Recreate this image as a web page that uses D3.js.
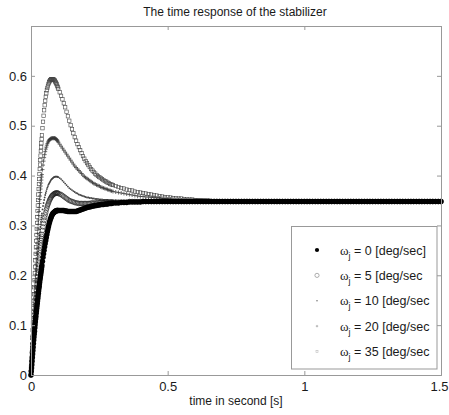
<!DOCTYPE html>
<html><head><meta charset="utf-8">
<script src="https://cdn.jsdelivr.net/npm/d3@7/dist/d3.min.js"></script>
<style>body{margin:0;background:#fff}svg{display:block}</style>
</head><body>
<svg id="c" width="449" height="415"></svg>
<script>
// sample times [s]
const times = [
0,0.001,0.002,0.003,0.004,0.005,0.006,0.007,0.008,0.009,
0.010,0.011,0.012,0.013,0.014,0.015,0.016,0.017,0.018,0.019,
0.020,0.021,0.022,0.023,0.024,0.025,0.026,0.027,0.028,0.029,
0.030,0.031,0.032,0.033,0.034,0.035,0.036,0.037,0.038,0.039,
0.040,
0.042,0.044,0.046,0.048,0.050,0.052,0.054,0.056,0.058,0.060,
0.062,0.064,0.066,0.068,0.070,0.072,0.074,0.076,0.078,0.080,
0.082,0.084,0.086,0.088,0.090,0.092,0.094,0.096,0.098,0.100,
0.105,0.110,0.115,0.120,0.125,0.130,0.135,0.140,0.145,0.150,
0.155,0.160,0.165,0.170,0.175,0.180,0.185,0.190,0.195,0.200,
0.205,0.210,0.215,0.220,0.225,0.230,0.235,0.240,0.245,0.250,
0.255,0.260,0.265,0.270,0.275,0.280,0.285,0.290,0.295,0.300,
0.31,0.32,0.33,0.34,0.35,0.36,0.37,0.38,0.39,0.40,
0.41,0.42,0.43,0.44,0.45,0.46,0.47,0.48,0.49,0.50,
0.51,0.52,0.53,0.54,0.55,0.56,0.57,0.58,0.59,0.60,
0.61,0.62,0.63,0.64,0.65,0.66,0.67,0.68,0.69,0.70,
0.71,0.72,0.73,0.74,0.75,0.76,0.77,0.78,0.79,0.80,
0.81,0.82,0.83,0.84,0.85,0.86,0.87,0.88,0.89,0.90,
0.91,0.92,0.93,0.94,0.95,0.96,0.97,0.98,0.99,1.00,
1.01,1.02,1.03,1.04,1.05,1.06,1.07,1.08,1.09,1.10,
1.11,1.12,1.13,1.14,1.15,1.16,1.17,1.18,1.19,1.20,
1.21,1.22,1.23,1.24,1.25,1.26,1.27,1.28,1.29,1.30,
1.31,1.32,1.33,1.34,1.35,1.36,1.37,1.38,1.39,1.40,
1.41,1.42,1.43,1.44,1.45,1.46,1.47,1.48,1.49,1.50
];

// omega_j = 0 deg/sec
const w0 = [
0,.007,.014,.021,.028,.035,.042,.049,.056,.063,
.070,.076,.082,.088,.095,.101,.107,.113,.118,.124,
.129,.134,.139,.144,.149,.154,.159,.164,.169,.174,
.178,.183,.187,.192,.196,.200,.204,.208,.212,.216,
.220,
.228,.236,.243,.250,.257,.264,.270,.276,.282,.288,
.293,.298,.303,.307,.311,.314,.317,.320,.322,.324,
.325,.326,.327,.328,.329,.329,.330,.330,.330,.330,
.330,.330,.330,.330,.329,.329,.328,.328,.328,.328,
.328,.328,.328,.329,.330,.331,.332,.333,.334,.335,
.336,.337,.337,.338,.339,.339,.340,.340,.341,.341,
.342,.342,.342,.343,.343,.343,.344,.344,.344,.345,
.345,.345,.346,.346,.346,.347,.347,.347,.347,.347,
.348,.348,.348,.348,.348,.348,.348,.348,.348,.348,
.348,.348,.348,.348,.348,.348,.348,.348,.348,.348,
.348,.348,.348,.348,.348,.348,.348,.348,.348,.348,
.348,.348,.348,.348,.348,.348,.348,.348,.348,.348,
.348,.348,.348,.348,.348,.348,.348,.348,.348,.348,
.348,.348,.348,.348,.348,.348,.348,.348,.348,.348,
.348,.348,.348,.348,.348,.348,.348,.348,.348,.348,
.348,.348,.348,.348,.348,.348,.348,.348,.348,.348,
.348,.348,.348,.348,.348,.348,.348,.348,.348,.348,
.348,.348,.348,.348,.348,.348,.348,.348,.348,.348,
.348,.348,.348,.348,.348,.348,.348,.348,.348,.348
];

// omega_j = 5 deg/sec
const w5 = [
0,.009,.018,.027,.036,.045,.054,.063,.072,.081,
.090,.099,.107,.115,.123,.131,.139,.147,.155,.162,
.169,.176,.183,.190,.197,.204,.210,.216,.222,.228,
.234,.240,.245,.250,.255,.260,.265,.270,.274,.278,
.282,
.290,.297,.304,.310,.316,.321,.326,.331,.335,.339,
.342,.345,.348,.351,.353,.355,.357,.359,.360,.361,
.362,.363,.364,.364,.365,.365,.365,.365,.365,.364,
.363,.362,.360,.358,.356,.354,.352,.350,.349,.348,
.347,.346,.345,.345,.344,.344,.344,.344,.344,.344,
.344,.344,.344,.345,.345,.345,.345,.345,.346,.346,
.346,.346,.346,.347,.347,.347,.347,.347,.347,.347,
.347,.347,.347,.347,.347,.348,.348,.348,.348,.348,
.348,.348,.348,.348,.348,.348,.348,.348,.348,.348,
.348,.348,.348,.348,.348,.348,.348,.348,.348,.348,
.348,.348,.348,.348,.348,.348,.348,.348,.348,.348,
.348,.348,.348,.348,.348,.348,.348,.348,.348,.348,
.348,.348,.348,.348,.348,.348,.348,.348,.348,.348,
.348,.348,.348,.348,.348,.348,.348,.348,.348,.348,
.348,.348,.348,.348,.348,.348,.348,.348,.348,.348,
.348,.348,.348,.348,.348,.348,.348,.348,.348,.348,
.348,.348,.348,.348,.348,.348,.348,.348,.348,.348,
.348,.348,.348,.348,.348,.348,.348,.348,.348,.348,
.348,.348,.348,.348,.348,.348,.348,.348,.348,.348
];

// omega_j = 10 deg/sec
const w10 = [
0,.011,.022,.033,.044,.055,.066,.077,.088,.099,
.109,.119,.129,.139,.149,.158,.167,.176,.185,.194,
.202,.210,.218,.226,.234,.241,.248,.255,.262,.268,
.274,.280,.286,.292,.297,.302,.307,.312,.316,.320,
.324,
.332,.339,.345,.351,.356,.361,.365,.369,.373,.376,
.379,.382,.384,.386,.388,.390,.392,.393,.394,.395,
.396,.397,.397,.398,.398,.398,.398,.398,.397,.397,
.395,.393,.390,.387,.384,.381,.378,.375,.373,.371,
.369,.367,.365,.364,.362,.361,.360,.359,.358,.357,
.356,.356,.355,.355,.354,.354,.353,.353,.353,.352,
.352,.352,.351,.351,.351,.351,.350,.350,.350,.350,
.350,.349,.349,.349,.349,.349,.349,.349,.349,.349,
.348,.348,.348,.348,.348,.348,.348,.348,.348,.348,
.348,.348,.348,.348,.348,.348,.348,.348,.348,.348,
.348,.348,.348,.348,.348,.348,.348,.348,.348,.348,
.348,.348,.348,.348,.348,.348,.348,.348,.348,.348,
.348,.348,.348,.348,.348,.348,.348,.348,.348,.348,
.348,.348,.348,.348,.348,.348,.348,.348,.348,.348,
.348,.348,.348,.348,.348,.348,.348,.348,.348,.348,
.348,.348,.348,.348,.348,.348,.348,.348,.348,.348,
.348,.348,.348,.348,.348,.348,.348,.348,.348,.348,
.348,.348,.348,.348,.348,.348,.348,.348,.348,.348,
.348,.348,.348,.348,.348,.348,.348,.348,.348,.348
];

// omega_j = 20 deg/sec
const w20 = [
0,.013,.026,.039,.052,.065,.078,.091,.104,.117,
.129,.141,.153,.165,.177,.189,.200,.211,.222,.233,
.244,.254,.264,.274,.284,.293,.302,.311,.320,.328,
.336,.344,.352,.359,.366,.373,.379,.385,.391,.397,
.402,
.412,.421,.429,.436,.442,.448,.453,.457,.461,.464,
.467,.469,.471,.472,.473,.474,.474,.475,.475,.475,
.475,.475,.475,.475,.474,.473,.472,.471,.469,.467,
.463,.459,.455,.451,.447,.443,.439,.435,.431,.427,
.423,.419,.416,.413,.410,.407,.404,.401,.398,.396,
.394,.392,.390,.388,.386,.384,.383,.381,.380,.379,
.377,.376,.375,.374,.373,.372,.371,.370,.369,.368,
.367,.366,.365,.364,.363,.362,.361,.360,.359,.358,
.358,.357,.357,.356,.356,.355,.355,.354,.354,.353,
.353,.352,.352,.352,.351,.351,.351,.350,.350,.350,
.350,.349,.349,.349,.349,.349,.349,.348,.348,.348,
.348,.348,.348,.348,.348,.348,.348,.348,.348,.348,
.348,.348,.348,.348,.348,.348,.348,.348,.348,.348,
.348,.348,.348,.348,.348,.348,.348,.348,.348,.348,
.348,.348,.348,.348,.348,.348,.348,.348,.348,.348,
.348,.348,.348,.348,.348,.348,.348,.348,.348,.348,
.348,.348,.348,.348,.348,.348,.348,.348,.348,.348,
.348,.348,.348,.348,.348,.348,.348,.348,.348,.348,
.348,.348,.348,.348,.348,.348,.348,.348,.348,.348
];

// omega_j = 35 deg/sec
const w35 = [
0,.015,.030,.045,.060,.075,.090,.105,.120,.134,
.148,.162,.176,.190,.204,.217,.230,.243,.256,.269,
.281,.293,.305,.317,.329,.340,.351,.362,.373,.383,
.393,.403,.413,.422,.431,.440,.449,.457,.465,.473,
.481,
.495,.508,.520,.531,.541,.550,.558,.565,.571,.576,
.580,.584,.587,.589,.591,.592,.593,.593,.593,.593,
.593,.592,.591,.589,.587,.585,.583,.580,.577,.574,
.567,.560,.553,.545,.537,.528,.519,.510,.501,.493,
.485,.477,.470,.463,.457,.451,.445,.439,.434,.429,
.425,.421,.417,.413,.410,.407,.404,.401,.399,.397,
.395,.393,.391,.389,.388,.386,.385,.383,.382,.381,
.379,.377,.375,.374,.372,.371,.370,.368,.367,.366,
.365,.364,.363,.362,.361,.360,.359,.358,.357,.357,
.356,.355,.355,.354,.354,.353,.353,.352,.352,.351,
.351,.351,.350,.350,.350,.349,.349,.349,.349,.349,
.348,.348,.348,.348,.348,.348,.348,.348,.348,.348,
.348,.348,.348,.348,.348,.348,.348,.348,.348,.348,
.348,.348,.348,.348,.348,.348,.348,.348,.348,.348,
.348,.348,.348,.348,.348,.348,.348,.348,.348,.348,
.348,.348,.348,.348,.348,.348,.348,.348,.348,.348,
.348,.348,.348,.348,.348,.348,.348,.348,.348,.348,
.348,.348,.348,.348,.348,.348,.348,.348,.348,.348,
.348,.348,.348,.348,.348,.348,.348,.348,.348,.348
];

const jamRates = ["0","5","10","20","35"];
const legendTails = [" = 0 [deg/sec]"," = 5 [deg/sec"," = 10 [deg/sec"," = 20 [deg/sec"," = 35 [deg/sec"];
const yTicks = [0,0.1,0.2,0.3,0.4,0.5,0.6];
const xTicks = [0,0.5,1,1.5];
const titleText = "The time response of the stabilizer";
const xLabelText = "time in second [s]";

const seriesValues = [w0,w5,w10,w20,w35];
const markerKinds = ["dot","circle","point","plus","square"];

const svg = d3.select("#c");
const FONT = "Liberation Sans, Arial, Helvetica, sans-serif";
const x = d3.scaleLinear().domain([0,1.5]).range([31,441]);
const y = d3.scaleLinear().domain([0,0.7]).range([375,26]);

svg.append("rect").attr("x",31).attr("y",26).attr("width",410).attr("height",349)
  .attr("fill","#fff");

const plot = svg.append("g");
function drawMarkers(g, kind, pts, legend){
  const sel = g.selectAll(null).data(pts);
  if(kind==="dot"){
    sel.enter().append("circle").attr("cx",d=>d[0]).attr("cy",d=>d[1]).attr("r",legend?2.1:2.7).attr("fill","#000");
  } else if(kind==="circle"){
    sel.enter().append("circle").attr("cx",d=>d[0]).attr("cy",d=>d[1]).attr("r",legend?2.1:2.3)
      .attr("fill","none").attr("stroke",legend?"#999":"#222").attr("stroke-width",legend?0.8:0.6);
  } else if(kind==="point"){
    sel.enter().append("circle").attr("cx",d=>d[0]).attr("cy",d=>d[1]).attr("r",legend?0.8:0.9).attr("fill",legend?"#777":"#444");
  } else if(kind==="plus"){
    const s = legend?1.2:2;
    sel.enter().append("path").attr("transform",d=>`translate(${d[0]},${d[1]})`)
      .attr("d",`M${-s},0H${s}M0,${-s}V${s}`).attr("fill","none")
      .attr("stroke",legend?"#999":"#333").attr("stroke-width",0.7);
  } else {
    const s = legend?2:3.4;
    sel.enter().append("rect").attr("x",d=>d[0]-s/2).attr("y",d=>d[1]-s/2).attr("width",s).attr("height",s)
      .attr("fill","none").attr("stroke",legend?"#bbb":"#444").attr("stroke-width",0.6);
  }
}
[4,3,2,1,0].forEach(k=>{
  const vals = seriesValues[k];
  const pts = times.map((t,i)=>[x(t), y(vals[i])]).filter((p,i)=>i<vals.length);
  drawMarkers(plot.append("g"), markerKinds[k], pts, false);
});

const axisColor = "#999";
const gl = svg.append("g").attr("transform","translate(31,0)")
  .call(d3.axisLeft(y).tickValues(yTicks).tickSize(-4).tickPadding(4).tickFormat(d=>String(d)));
const gb = svg.append("g").attr("transform","translate(0,375)")
  .call(d3.axisBottom(x).tickValues(xTicks).tickSize(-4).tickPadding(7).tickFormat(d=>String(d)));
const gt = svg.append("g").attr("transform","translate(0,26)")
  .call(d3.axisTop(x).tickValues(xTicks).tickSize(-4).tickFormat(""));
const gr = svg.append("g").attr("transform","translate(441,0)")
  .call(d3.axisRight(y).tickValues(yTicks).tickSize(-4).tickFormat(""));
[gl,gb,gt,gr].forEach(g=>{
  g.select(".domain").attr("stroke",axisColor).attr("stroke-width",1);
  g.selectAll(".tick line").attr("stroke",axisColor);
  g.selectAll("text").attr("fill","#1a1a1a").attr("font-family",FONT).attr("font-size",13);
});
// keep last x tick label inside the window, as in the reference
gb.selectAll(".tick text").filter(d=>d===1.5).attr("text-anchor","end").attr("x",7);

const lg = svg.append("g");
lg.append("rect").attr("x",291.5).attr("y",226.5).attr("width",145.5).attr("height",142.5)
  .attr("fill","#fff").attr("stroke","#999").attr("stroke-width",1);
const rowY = d3.scalePoint().domain(jamRates).range([250,351.5]);
jamRates.forEach((r,k)=>{
  const yy = rowY(r);
  drawMarkers(lg.append("g"), markerKinds[k], [[317,yy]], true);
  const t = lg.append("text").attr("x",340).attr("y",yy+4.5)
    .attr("font-family",FONT).attr("font-size",12.5).attr("fill","#1a1a1a");
  t.append("tspan").attr("font-family","Liberation Serif, DejaVu Serif, serif").attr("font-size",13).text("ω");
  t.append("tspan").attr("font-size",9).attr("dy",4).text("j");
  t.append("tspan").attr("dy",-4).text(legendTails[k]);
});

svg.append("text").attr("x",235).attr("y",16).attr("text-anchor","middle")
  .attr("font-family",FONT).attr("font-size",12).attr("fill","#1a1a1a").text(titleText);
svg.append("text").attr("x",236).attr("y",405).attr("text-anchor","middle")
  .attr("font-family",FONT).attr("font-size",12).attr("fill","#1a1a1a").text(xLabelText);
</script>
</body></html>
